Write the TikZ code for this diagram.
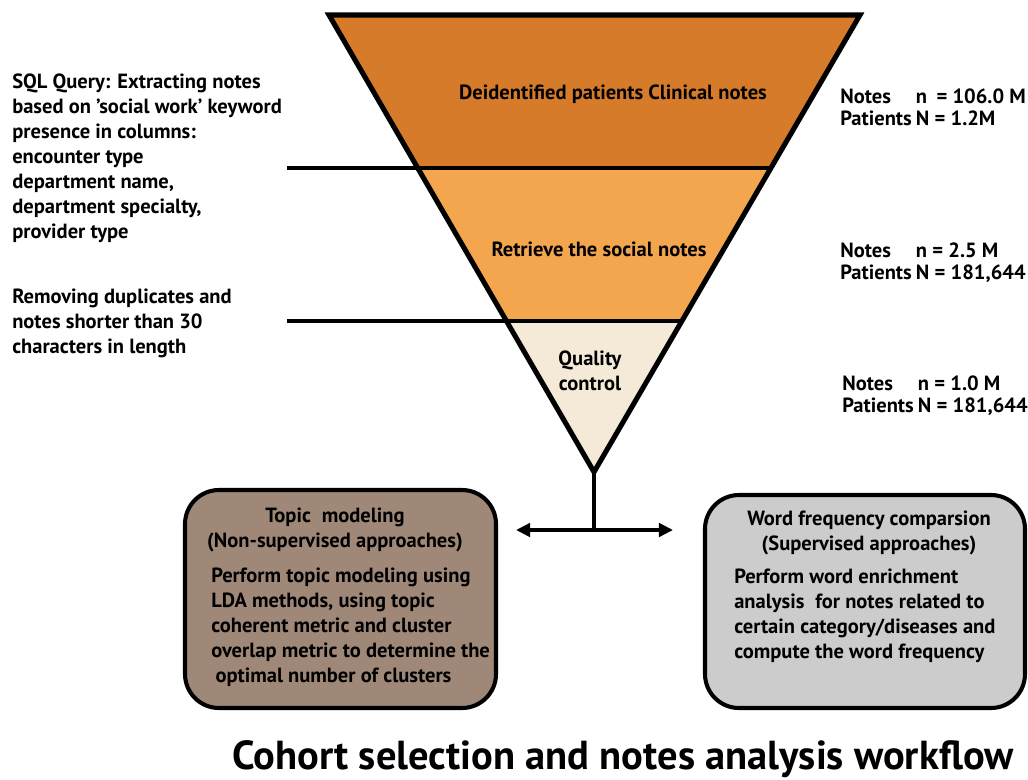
\documentclass[tikz,border=0pt]{standalone}
\usepackage{fontspec}
\setmainfont{PT Sans}
\usetikzlibrary{arrows.meta,positioning,calc}
\definecolor{DeepOrange}{HTML}{D67B29}
\definecolor{MidOrange}{HTML}{F4A64E}
\definecolor{PaleCream}{HTML}{F5EAD7}
\definecolor{Taupe}{HTML}{A08878}
\definecolor{LightGray}{HTML}{CCCCCC}
\tikzset{
  funnel/.style={draw=black,line width=3.6pt,line join=miter},
  divider/.style={draw=black,line width=3.2pt},
  stagetxt/.style={font=\fontsize{14.6}{17.8}\selectfont\bfseries,align=center,inner sep=0pt},
  sidetxt/.style={font=\fontsize{14.6}{17.8}\selectfont\bfseries,align=left,anchor=west,inner sep=0pt},
  counttxt/.style={font=\fontsize{14.6}{17.8}\selectfont\bfseries,anchor=west,inner sep=0pt},
  panel/.style={draw=black,line width=2.9pt,rounded corners=0.85cm},
  stem/.style={draw=black,line width=2.9pt},
  split/.style={{Triangle[length=10pt,width=9.5pt]}-{Triangle[length=10pt,width=9.5pt]},draw=black,line width=2.9pt},
}
\newcommand{\counts}[2]{\begin{tabular}{@{}l@{\hspace{3pt}}l@{}}Notes & #1\\[-1.5pt] Patients & #2\end{tabular}}
\begin{document}
\begin{tikzpicture}[x=0.025cm,y=-0.025cm]
  \useasboundingbox (0,0) rectangle (1028,779);
  % funnel corners
  \coordinate (tl) at (329,15);
  \coordinate (tr) at (860,15);
  \coordinate (apex) at (594,472);
  \coordinate (l1) at ($(tl)!0.335!(apex)$);
  \coordinate (r1) at ($(tr)!0.335!(apex)$);
  \coordinate (l2) at ($(tl)!0.67!(apex)$);
  \coordinate (r2) at ($(tr)!0.67!(apex)$);
  \fill[DeepOrange] (tl) -- (tr) -- (r1) -- (l1) -- cycle;
  \fill[MidOrange] (l1) -- (r1) -- (r2) -- (l2) -- cycle;
  \fill[PaleCream] (l2) -- (r2) -- (apex) -- cycle;
  \draw[divider] (287,0 |- l1) -- (r1);
  \draw[divider] (287,0 |- l2) -- (r2);
  \draw[funnel] (tl) -- (tr) -- (apex) -- cycle;

  % stage labels
  \node[stagetxt] (raw) at (613,94) {Deidentified patients Clinical notes};
  \node[stagetxt] (social) at (599,249) {Retrieve the social notes};
  \node[stagetxt] (qc) at (590,371) {Quality\\control};

  % side notes
  \node[sidetxt] (sql) at (12,158) {SQL Query: Extracting notes\\based on \char39 social work\char39{} keyword\\presence in columns:\\encounter type\\department name,\\department specialty,\\provider type};
  \node[sidetxt] (dedup) at (12,323) {Removing duplicates and\\notes shorter than 30\\characters in length};
  \node[counttxt] (n1) at (840,109.5) {\counts{n\hspace{3pt} = 106.0 M}{N = 1.2M}};
  \node[counttxt] (n2) at (840,263.5) {\counts{n = 2.5 M}{N = 181,644}};
  \node[counttxt] (n3) at (842,396.5) {\counts{n = 1.0 M}{N = 181,644}};

  % analysis panels
  \draw[panel,fill=Taupe] (185,490) rectangle (496,708);
  \draw[panel,fill=LightGray] (705,495) rectangle (1025,708);
  \node[stagetxt] (topic) at (335,530) {Topic\hspace{4pt} modeling\\(Non-supervised approaches)};
  \node[sidetxt] (topicbody) at (211,627.5) {Perform topic modeling using\\LDA methods, using topic\\coherent metric and cluster\\overlap metric to determine the\\\hspace{3pt}optimal number of clusters};
  \node[stagetxt] (word) at (869,533) {Word frequency comparsion\\(Supervised approaches)};
  \node[sidetxt] (wordbody) at (734,616) {Perform word enrichment\\analysis\hspace{4pt} for notes related to\\certain category/diseases and\\compute the word frequency};

  % split connector
  \coordinate (fork) at (594,530);
  \coordinate (toleft) at (516,530);
  \coordinate (toright) at (673,530);
  \draw[stem] (apex) -- (fork);
  \draw[split] (toleft) -- (toright);

  \node[font=\fontsize{28.8}{32}\selectfont\bfseries,inner sep=0pt] (title) at (623,759) {Cohort selection and notes analysis workflow};
\end{tikzpicture}
\end{document}
